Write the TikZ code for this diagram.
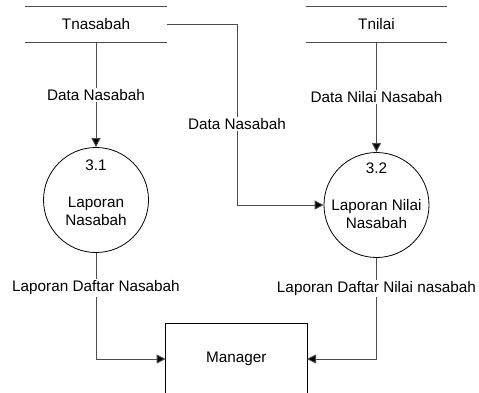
\documentclass[tikz,border=0pt]{standalone}
\usepackage{fontspec}
\setmainfont{Liberation Sans}
\usetikzlibrary{arrows.meta}
\tikzset{
  every node/.style={font=\fontsize{15.3}{18}\selectfont, inner sep=1pt},
  ln/.style={draw=black!70, line width=0.9pt},
  flow/.style={ln, -{Triangle[length=9pt,width=9pt,fill=black]}},
  lbl/.style={fill=white, inner sep=1.5pt},
  store/.style={minimum width=141pt, minimum height=35pt, inner sep=0pt},
  proc/.style={circle, draw=black, line width=0.8pt, minimum size=105pt, inner sep=0pt},
  ent/.style={minimum width=141pt, minimum height=70pt, inner sep=0pt}
}
\begin{document}
\begin{tikzpicture}[x=1pt,y=-1pt]
\clip (0,0) rectangle (479,392);
\fill[white] (0,0) rectangle (479,392);
% data stores
\node[store] (s1) at (96,24.5) {Tnasabah};
\node[store] (s2) at (376.5,24.5) {Tnilai};
\draw[ln] (s1.north west) -- (s1.north east) (s1.south west) -- (s1.south east);
\draw[ln] (s2.north west) -- (s2.north east) (s2.south west) -- (s2.south east);
% processes
\node[proc] (p1) at (96,200) {};
\node[yshift=35pt] at (p1) {3.1};
\node[yshift=-11pt, align=center] at (p1) {Laporan\\Nasabah};
\node[proc] (p2) at (376.5,205) {};
\node[yshift=37pt] at (p2) {3.2};
\node[yshift=-9pt, align=center] at (p2) {Laporan Nilai\\Nasabah};
% entity
\node[ent] (m) at (236.3,359) {Manager};
\draw[line width=0.8pt] ([yshift=-60pt]m.south west) -- (m.north west) -- (m.north east) -- ([yshift=-60pt]m.south east);
% flows
\coordinate (c1) at (237,24.5);
\coordinate (c2) at (237,205);
\coordinate (c3) at (96,359);
\coordinate (c4) at (376.5,359);
\draw[flow] (s1.south) -- node[lbl, pos=0.5] {Data Nasabah} (p1.north);
\draw[flow] (s2.south) -- node[lbl, pos=0.5] {Data Nilai Nasabah} (p2.north);
\draw[flow] (s1.east) -- (c1) -- node[lbl, pos=0.55] {Data Nasabah} (c2) -- (p2.west);
\draw[flow] (p1.south) -- node[lbl, pos=0.33] {Laporan Daftar Nasabah} (c3) -- (m.west);
\draw[flow] (p2.south) -- node[lbl, pos=0.30] {Laporan Daftar Nilai nasabah} (c4) -- (m.east);
\end{tikzpicture}
\end{document}
